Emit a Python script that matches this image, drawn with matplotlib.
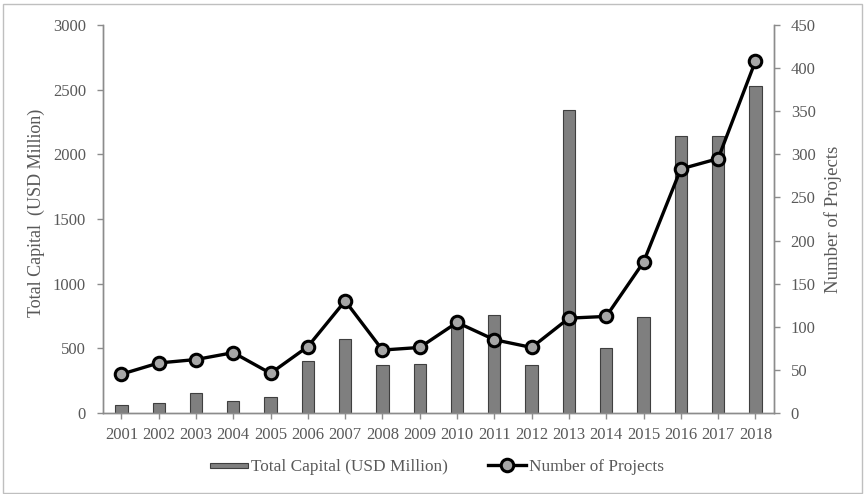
import matplotlib
matplotlib.use("Agg")
import matplotlib.pyplot as plt
from matplotlib.patches import Rectangle
from matplotlib.legend_handler import HandlerPatch

plt.rcParams['font.family'] = ['Liberation Serif', 'DejaVu Serif']

years = [str(y) for y in range(2001, 2019)]
total_capital = [65, 75, 152, 93, 121, 404, 572, 374, 381, 690, 760, 371,
                 2342, 500, 744, 2139, 2139, 2530]
num_projects = [45, 58, 62, 70, 46, 77, 130, 73, 76, 105, 85, 76,
                110, 112, 175, 283, 295, 408]

TEXT = '#595959'
AXIS = '#8c8c8c'


def thin_bar(legend, orig_handle, xdescent, ydescent, width, height, fontsize):
    # flat swatch for the bar series in the legend
    h = height * 0.45
    return Rectangle((-xdescent, -ydescent + (height - h) / 2), width, h)


fig = plt.figure(figsize=(8.64, 4.94), dpi=100)
ax = fig.add_axes([0.1189, 0.164, 0.777, 0.7854])
ax2 = ax.twinx()

x = range(len(years))
bars = ax.bar(x, total_capital, width=0.33, color='#7f7f7f',
              edgecolor='#3f3f3f', linewidth=0.8, label='Total Capital (USD Million)')
line, = ax2.plot(x, num_projects, color='black', linewidth=2.4, marker='o',
                 markersize=9, markerfacecolor='#a6a6a6', markeredgecolor='black',
                 markeredgewidth=2.2, label='Number of Projects')

ax.set_xlim(-0.5, len(years) - 0.5)
ax.set_ylim(0, 3000)
ax2.set_ylim(0, 450)
ax.set_yticks(range(0, 3001, 500))
ax2.set_yticks(range(0, 451, 50))
ax.set_xticks(list(x))
ax.set_xticklabels(years)

for a in (ax, ax2):
    a.spines['top'].set_visible(False)
    for s in ('left', 'right', 'bottom'):
        a.spines[s].set_color(AXIS)
        a.spines[s].set_linewidth(1)
    a.tick_params(colors=AXIS, labelcolor=TEXT, labelsize=12, length=4, width=1)
ax.tick_params(axis='x', pad=6)
ax.tick_params(axis='y', pad=8)
ax2.tick_params(axis='y', pad=8)

ax.set_ylabel('Total Capital  (USD Million)', color=TEXT, fontsize=13)
ax.yaxis.set_label_coords(-0.086, 0.516)
ax2.set_ylabel('Number of Projects', color=TEXT, fontsize=13.5, labelpad=6)

bar_handle = bars.patches[0]
fig.legend([bar_handle, line], ['Total Capital (USD Million)', 'Number of Projects'],
           loc='center', bbox_to_anchor=(0.506, 0.054), ncol=2, frameon=False,
           fontsize=12.4, labelcolor=TEXT, handlelength=2.2, handletextpad=0.2,
           columnspacing=2.3, handler_map={bar_handle: HandlerPatch(patch_func=thin_bar)})

# thin border round the whole figure
fig.patches.append(Rectangle((0.003, 0.002), 0.995, 0.989, transform=fig.transFigure,
                             fill=False, edgecolor='#bfbfbf', linewidth=1))

fig.savefig('out.png', dpi=100)
